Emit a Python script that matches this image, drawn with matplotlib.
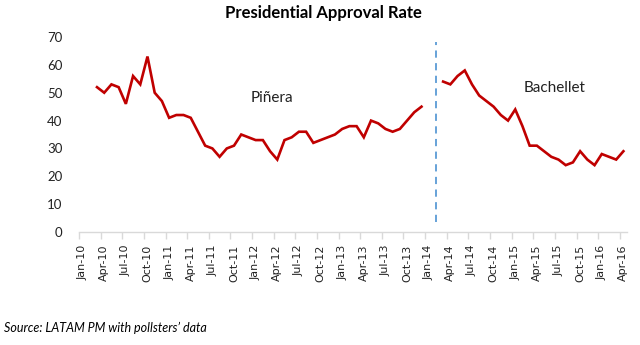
import matplotlib.pyplot as plt
import pandas as pd

# Monthly categories, Jan-10 .. Apr-16
months = pd.date_range('2010-01-01', '2016-04-01', freq='MS').strftime('%b-%y').tolist()

# Approval (%)
pinera_start = 'Mar-10'
pinera = [52, 50, 53, 52, 46, 56, 53, 63, 50, 47,
          41, 42, 42, 41, 36, 31, 30, 27, 30, 31, 35, 34,
          33, 33, 29, 26, 33, 34, 36, 36, 32, 33, 34, 35,
          37, 38, 38, 34, 40, 39, 37, 36, 37, 40, 43, 45]
bachelet_start = 'Mar-14'
bachelet = [54, 53, 56, 58, 53, 49, 47, 45, 42, 40,
            44, 38, 31, 31, 29, 27, 26, 24, 25, 29, 26, 24,
            28, 27, 26, 29]
change_month = 'Feb-14'

i0 = months.index(pinera_start)
i1 = months.index(bachelet_start)
x_pin = list(range(i0, i0 + len(pinera)))
x_bac = list(range(i1, i1 + len(bachelet)))

fig = plt.figure(figsize=(6.4, 3.45), dpi=100)
ax = fig.add_axes([0.1234, 0.3275, 0.8563, 0.5652])

red = '#C00000'
ax.plot(x_pin, pinera, color=red, linewidth=1.9, solid_joinstyle='miter')
ax.plot(x_bac, bachelet, color=red, linewidth=1.9, solid_joinstyle='miter')

# dashed marker for the change of government
xc = months.index(change_month)
ax.plot([xc, xc], [3.5, 68.3], color='#5B9BD5', linewidth=1.3,
        linestyle=(0, (4, 3)))

ax.text(26.3, 48, 'Piñera', fontsize=11, family='Lato',
        ha='center', va='center', color='#222222')
ax.text(65.5, 51.7, 'Bachellet', fontsize=11, family='Lato',
        ha='center', va='center', color='#222222')

ax.set_xlim(-0.5, len(months) - 0.5)
ax.set_ylim(0, 70)
ax.set_yticks(range(0, 71, 10))

label_pos = list(range(0, len(months), 3))
ax.set_xticks(label_pos)
ax.set_xticklabels([months[i] for i in label_pos], rotation=90)
ax.set_xticks([p - 0.5 for p in label_pos], minor=True)
ax.tick_params(axis='x', which='major', length=0, pad=9, labelsize=8,
               labelcolor='#222222')
ax.tick_params(axis='x', which='minor', length=5, color='#D9D9D9', width=1)
ax.tick_params(axis='y', length=0, pad=12, labelsize=9.5, labelcolor='#222222')
for lab in ax.get_yticklabels():
    lab.set_family('Lato')

for s in ['top', 'right', 'left']:
    ax.spines[s].set_visible(False)
ax.spines['bottom'].set_color('#D9D9D9')
ax.spines['bottom'].set_linewidth(1)

fig.text(0.505, 0.962, 'Presidential Approval Rate', ha='center', va='center',
         fontsize=12, fontweight='bold', family='Lato')
fig.text(0.006, 0.05, 'Source: LATAM PM with pollsters\u2019 data',
         ha='left', va='center', fontsize=9, style='italic', family='Lato')

fig.savefig('out.png', dpi=100, facecolor='white')
